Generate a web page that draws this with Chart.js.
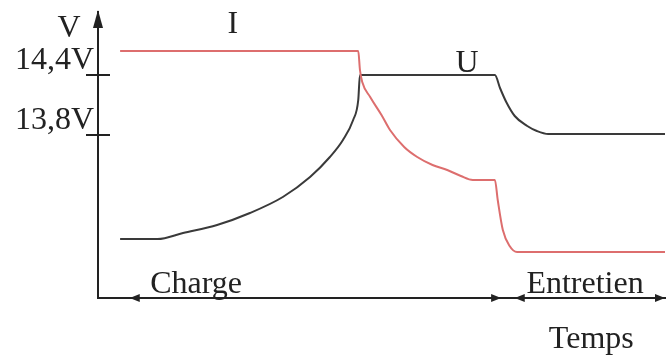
<!DOCTYPE html>
<html>
<head>
<meta charset="utf-8">
<script src="https://cdn.jsdelivr.net/npm/chart.js@4"></script>
<style>
  body { margin: 0; background: #fff; }
</style>
</head>
<body>
<canvas id="schema" width="672" height="358"></canvas>
<script>
// temps (0..100) et valeur
const currentT = [3.9, 45.9, 46.2, 46.6, 48.0, 50.0, 51.5, 54.0, 56.3, 59.0, 61.6, 64.0, 66.1, 70.0, 70.5, 71.4, 72.6, 73.9, 100]
const currentV = [14.64, 14.64, 14.45, 14.33, 14.18, 14.0, 13.85, 13.68, 13.58, 13.5, 13.45, 13.39, 13.35, 13.35, 13.15, 12.85, 12.69, 12.63, 12.63]

const voltageT = [3.9, 10.5, 15.0, 21.0, 26.8, 32.6, 37.4, 40.9, 43.2, 45.0, 45.9, 46.2, 70.0, 70.9, 72.0, 73.5, 75.7, 77.4, 79.4, 100]
const voltageV = [12.76, 12.76, 12.82, 12.9, 13.02, 13.18, 13.38, 13.58, 13.75, 13.95, 14.15, 14.4, 14.4, 14.27, 14.13, 13.99, 13.89, 13.84, 13.81, 13.81]

const yTicks = [13.8, 14.4]
const yTickLabels = ['13,8V', '14,4V']

const phases = ['Charge', 'Entretien']
const phaseStart = [5.6, 73.5]
const phaseEnd = [71.1, 100]

const serif = '"Liberation Serif", "Times New Roman", serif'
const ink = '#222'

const toPoints = (xs, ys) => xs.map((x, i) => ({ x: x, y: ys[i] }))

//--------------------------------------------------------------------------

const arrow = (ctx, x, y, dir, len, half) => {
    ctx.beginPath()
    if (dir === 'up') {
        ctx.moveTo(x, y)
        ctx.lineTo(x - half, y + len)
        ctx.lineTo(x + half, y + len)
    } else {
        const s = dir === 'right' ? -1 : 1
        ctx.moveTo(x, y)
        ctx.lineTo(x + s * len, y - half)
        ctx.lineTo(x + s * len, y + half)
    }
    ctx.closePath()
    ctx.fill()
}

const schemaPlugin = {
    id: 'schema',
    afterDraw(chart) {
        const ctx = chart.ctx
        const xs = chart.scales.x
        const ys = chart.scales.y
        const area = chart.chartArea
        ctx.save()
        ctx.fillStyle = ink
        ctx.strokeStyle = ink
        ctx.lineWidth = 2

        // fleche de l'axe vertical
        arrow(ctx, area.left, area.top - 2, 'up', 18, 5)

        // traits de graduation qui traversent l'axe
        yTicks.forEach(v => {
            const y = ys.getPixelForValue(v)
            ctx.beginPath()
            ctx.moveTo(area.left - 12, y)
            ctx.lineTo(area.left + 12, y)
            ctx.stroke()
        })

        // fleches des phases sur l'axe du temps
        phases.forEach((p, i) => {
            const a = xs.getPixelForValue(phaseStart[i])
            const b = xs.getPixelForValue(phaseEnd[i])
            arrow(ctx, a, area.bottom, 'left', 10, 4)
            arrow(ctx, b, area.bottom, 'right', 10, 4)
        })

        // textes
        ctx.font = '32px ' + serif
        ctx.textAlign = 'center'
        ctx.textBaseline = 'alphabetic'
        ctx.fillText('V', area.left - 29, 37)
        ctx.fillText('I', xs.getPixelForValue(23.8), 33)
        ctx.fillText('U', xs.getPixelForValue(65.1), 72)
        ctx.fillText(phases[0], xs.getPixelForValue(17.3), area.bottom - 5)
        ctx.fillText(phases[1], xs.getPixelForValue(85.9), area.bottom - 5)
        ctx.fillText('Temps', xs.getPixelForValue(87), area.bottom + 50)
        ctx.restore()
    }
}

const chartSchema = new Chart(document.querySelector('#schema').getContext('2d'), {
    type: 'line',
    data: {
        datasets: [
            {
                label: 'I',
                data: toPoints(currentT, currentV),
                borderColor: '#dd6e6e',
                borderWidth: 2,
                pointRadius: 0,
                cubicInterpolationMode: 'monotone'
            },
            {
                label: 'U',
                data: toPoints(voltageT, voltageV),
                borderColor: '#3a3a3a',
                borderWidth: 2,
                pointRadius: 0,
                cubicInterpolationMode: 'monotone'
            }
        ]
    },
    options: {
        responsive: false,
        devicePixelRatio: 1,
        animation: false,
        events: [],
        layout: {
            padding: { top: 12, right: 7, left: 0, bottom: 0 }
        },
        plugins: {
            legend: { display: false },
            tooltip: { enabled: false }
        },
        scales: {
            x: {
                type: 'linear',
                min: 0,
                max: 100,
                ticks: { display: false },
                grid: { display: true, drawOnChartArea: false, drawTicks: false },
                border: { display: true, color: ink, width: 2 },
                afterFit: scale => {
                    scale.height = 60
                    scale.paddingLeft = 0
                    scale.paddingRight = 0
                }
            },
            y: {
                min: 12.17,
                max: 15.03,
                afterBuildTicks: scale => {
                    scale.ticks = yTicks.map(v => ({ value: v }))
                },
                ticks: {
                    callback: (value) => yTickLabels[yTicks.indexOf(value)],
                    font: { family: serif, size: 32 },
                    color: ink,
                    padding: 4,
                    labelOffset: -14
                },
                grid: { display: true, drawOnChartArea: false, drawTicks: false },
                border: { display: true, color: ink, width: 2 },
                afterFit: scale => {
                    scale.width = 98
                    scale.paddingTop = 0
                    scale.paddingBottom = 0
                }
            }
        }
    },
    plugins: [schemaPlugin]
})
</script>
</body>
</html>
